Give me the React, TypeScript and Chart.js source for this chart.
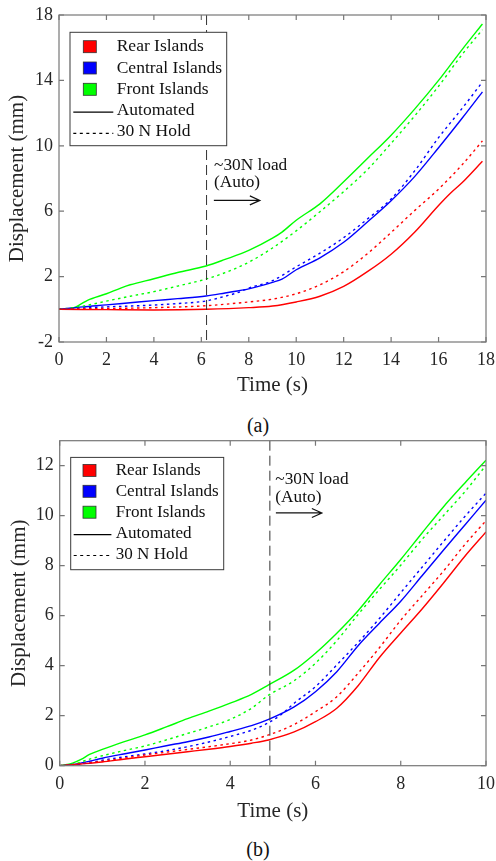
import React, { useEffect, useRef } from 'react';
import { Chart, registerables } from 'chart.js';

Chart.register(...registerables);

const FONT = "'Liberation Serif', 'Times New Roman', serif";
const RED = '#ff0000';
const BLUE = '#0000ff';
const GREEN = '#00ff00';
const AXIS = '#777777';
const TEXT = '#262626';

// ---------- Panel (a) ----------
const A_X_TICKS = [0, 2, 4, 6, 8, 10, 12, 14, 16, 18];
const A_Y_TICKS = [-2, 2, 6, 10, 14, 18];

const A_T_REAR_AUTO = [0, 2, 4, 6.2, 8, 9, 10, 11, 12, 13, 14, 15, 16, 16.5, 17, 17.85];
const A_V_REAR_AUTO = [0, -0.02, -0.04, 0, 0.1, 0.2, 0.45, 0.8, 1.4, 2.3, 3.37, 4.73, 6.35, 7.1, 7.75, 9.05];
const A_T_REAR_HOLD = [0, 1, 2, 4, 6.2, 8, 9, 10, 11, 12, 13, 14, 15, 16, 17, 17.85];
const A_V_REAR_HOLD = [0, 0.03, 0.05, 0.1, 0.22, 0.45, 0.62, 0.95, 1.5, 2.3, 3.4, 4.7, 6.05, 7.35, 8.85, 10.3];

const A_T_CENT_AUTO = [0, 1, 2, 3, 4, 5, 6.2, 7, 8, 9, 9.4, 10, 11, 12, 13, 14, 15, 16, 17, 17.85];
const A_V_CENT_AUTO = [0, 0.15, 0.27, 0.4, 0.53, 0.65, 0.81, 1.0, 1.25, 1.65, 1.85, 2.42, 3.15, 4.1, 5.34, 6.64, 8.13, 9.88, 11.7, 13.3];
const A_T_CENT_HOLD = [0, 1, 2, 3, 4, 5, 6.2, 7, 7.5, 8, 9, 10, 11, 12, 13, 14, 15, 16, 17, 17.85];
const A_V_CENT_HOLD = [0, 0.08, 0.15, 0.2, 0.26, 0.35, 0.51, 0.8, 1.0, 1.3, 1.75, 2.6, 3.43, 4.38, 5.52, 6.75, 8.48, 10.5, 12.3, 13.9];

const A_T_FRONT_AUTO = [0, 0.6, 0.9, 1.2, 2, 2.6, 3, 4, 5, 6.2, 7, 8, 9, 9.4, 10, 11, 12, 13, 14, 15, 16, 17, 17.85];
const A_V_FRONT_AUTO = [0, 0.08, 0.3, 0.55, 0.95, 1.3, 1.5, 1.87, 2.25, 2.65, 3.05, 3.6, 4.35, 4.72, 5.45, 6.45, 7.8, 9.22, 10.65, 12.26, 14.0, 15.9, 17.45];
const A_T_FRONT_HOLD = [0, 0.5, 1.2, 2, 3, 4, 5, 6.2, 7, 8, 9, 10, 11, 12, 13, 14, 15, 16, 17, 17.85];
const A_V_FRONT_HOLD = [0, 0.08, 0.25, 0.5, 0.8, 1.08, 1.42, 1.85, 2.24, 2.88, 3.75, 4.8, 5.97, 7.2, 8.54, 10.15, 11.84, 13.64, 15.6, 17.1];

// ---------- Panel (b) ----------
const B_X_TICKS = [0, 2, 4, 6, 8, 10];
const B_Y_TICKS = [0, 2, 4, 6, 8, 10, 12];

const B_T_REAR_AUTO = [0, 0.5, 1, 1.5, 2, 2.5, 3, 3.5, 4, 4.5, 4.9, 5.5, 6, 6.5, 7, 7.5, 8, 8.5, 9, 9.5, 10];
const B_V_REAR_AUTO = [0, 0.07, 0.15, 0.26, 0.36, 0.46, 0.56, 0.66, 0.77, 0.9, 1.03, 1.35, 1.76, 2.3, 3.2, 4.33, 5.31, 6.27, 7.3, 8.37, 9.35];
const B_T_REAR_HOLD = [0, 0.5, 1, 1.5, 2, 2.5, 3, 3.5, 4, 4.5, 4.9, 5.5, 6, 6.5, 7, 7.5, 8, 8.5, 9, 9.5, 10];
const B_V_REAR_HOLD = [0, 0.08, 0.18, 0.3, 0.43, 0.54, 0.65, 0.76, 0.88, 1.03, 1.23, 1.65, 2.16, 2.76, 3.7, 4.72, 5.82, 6.8, 7.78, 8.84, 9.8];

const B_T_CENT_AUTO = [0, 0.3, 0.7, 1, 1.5, 2, 2.5, 3, 3.5, 4, 4.5, 4.9, 5.5, 6, 6.5, 7, 7.5, 8, 8.5, 9, 9.5, 10];
const B_V_CENT_AUTO = [0, 0.05, 0.18, 0.3, 0.47, 0.63, 0.8, 0.96, 1.15, 1.37, 1.6, 1.85, 2.35, 2.96, 3.76, 4.8, 5.7, 6.58, 7.6, 8.62, 9.62, 10.62];
const B_T_CENT_HOLD = [0, 0.3, 0.7, 1, 1.5, 2, 2.5, 3, 3.5, 4, 4.5, 4.9, 5.2, 5.5, 6, 6.5, 7, 7.5, 8, 8.5, 9, 9.5, 10];
const B_V_CENT_HOLD = [0, 0.03, 0.12, 0.22, 0.35, 0.47, 0.6, 0.76, 0.95, 1.17, 1.42, 1.72, 2.05, 2.5, 3.16, 4.03, 4.93, 5.89, 6.92, 7.94, 8.96, 9.96, 10.9];

const B_T_FRONT_AUTO = [0, 0.3, 0.5, 0.7, 1, 1.5, 2, 2.5, 3, 3.5, 4, 4.5, 4.9, 5.5, 6, 6.5, 7, 7.5, 8, 8.5, 9, 9.5, 10];
const B_V_FRONT_AUTO = [0, 0.1, 0.25, 0.45, 0.65, 0.95, 1.23, 1.55, 1.88, 2.18, 2.5, 2.85, 3.23, 3.82, 4.5, 5.3, 6.2, 7.24, 8.25, 9.31, 10.35, 11.3, 12.22];
const B_T_FRONT_HOLD = [0, 0.3, 0.7, 1, 1.5, 2, 2.5, 3, 3.5, 4, 4.5, 4.9, 5.5, 6, 6.5, 7, 7.5, 8, 8.5, 9, 9.5, 10];
const B_V_FRONT_HOLD = [0, 0.05, 0.26, 0.4, 0.6, 0.79, 1.03, 1.29, 1.55, 1.85, 2.3, 2.82, 3.4, 4.1, 5.0, 6.05, 7.05, 8.02, 9.05, 10.0, 10.95, 12.02];

// ---------- Labels ----------
const LEGEND_LABELS = ['Rear Islands', 'Central Islands', 'Front Islands', 'Automated', '30 N Hold'];
const NOTE_LINES = ['~30N load', '(Auto)'];
const A_LOAD_TIME = 6.22;
const B_LOAD_TIME = 4.93;
const X_TITLE = 'Time (s)';
const Y_TITLE = 'Displacement (mm)';

const HOLD_DASH = [2.5, 3.5];

const pts = (t: number[], v: number[]) => t.map((x, i) => ({ x, y: v[i] }));

function makeDatasets(series: { t: number[]; v: number[]; color: string; hold: boolean }[]) {
  return series.map((s) => ({
    data: pts(s.t, s.v),
    borderColor: s.color,
    borderWidth: 1.4,
    borderDash: s.hold ? HOLD_DASH : [],
    pointRadius: 0,
    fill: false,
    cubicInterpolationMode: 'monotone' as const,
  }));
}

const framePlugin = {
  id: 'frame',
  afterDraw(chart: any) {
    const { ctx, chartArea } = chart;
    const { left, right, top, bottom } = chartArea;
    const xs = chart.scales.x;
    const ys = chart.scales.y;
    const tl = 5;
    ctx.save();
    ctx.strokeStyle = AXIS;
    ctx.lineWidth = 1.2;
    ctx.setLineDash([]);
    ctx.strokeRect(left, top, right - left, bottom - top);
    ctx.beginPath();
    xs.ticks.forEach((t: any) => {
      const p = xs.getPixelForValue(t.value);
      ctx.moveTo(p, bottom);
      ctx.lineTo(p, bottom - tl);
      ctx.moveTo(p, top);
      ctx.lineTo(p, top + tl);
    });
    ys.ticks.forEach((t: any) => {
      const p = ys.getPixelForValue(t.value);
      ctx.moveTo(left, p);
      ctx.lineTo(left + tl, p);
      ctx.moveTo(right, p);
      ctx.lineTo(right - tl, p);
    });
    ctx.stroke();
    ctx.restore();
  },
};

const notePlugin = {
  id: 'loadNote',
  afterDatasetsDraw(chart: any, _args: any, o: any) {
    const { ctx, chartArea } = chart;
    const xs = chart.scales.x;
    const ys = chart.scales.y;
    const px = xs.getPixelForValue(o.at);
    ctx.save();
    ctx.strokeStyle = '#333333';
    ctx.lineWidth = 1;
    ctx.setLineDash([10, 5]);
    ctx.beginPath();
    ctx.moveTo(px, chartArea.top);
    ctx.lineTo(px, chartArea.bottom);
    ctx.stroke();
    ctx.setLineDash([]);
    const ty = ys.getPixelForValue(o.textY);
    ctx.fillStyle = '#111';
    ctx.font = `${o.fontSize}px ${FONT}`;
    ctx.textBaseline = 'middle';
    ctx.textAlign = 'left';
    o.lines.forEach((s: string, i: number) => ctx.fillText(s, px + o.textDx, ty + i * o.lineGap));
    const ay = ty + o.arrowDy;
    const ax0 = px + o.arrowX0;
    const ax1 = px + o.arrowX1;
    ctx.strokeStyle = '#111';
    ctx.lineWidth = 1.2;
    ctx.beginPath();
    ctx.moveTo(ax0, ay);
    ctx.lineTo(ax1, ay);
    ctx.moveTo(ax1 - 10, ay - 4.5);
    ctx.lineTo(ax1, ay);
    ctx.lineTo(ax1 - 10, ay + 4.5);
    ctx.stroke();
    ctx.restore();
  },
};

const legendPlugin = {
  id: 'boxLegend',
  afterDraw(chart: any, _args: any, o: any) {
    const { ctx, chartArea } = chart;
    const x0 = chartArea.left + o.dx;
    const y0 = chartArea.top + o.dy;
    ctx.save();
    ctx.fillStyle = '#ffffff';
    ctx.fillRect(x0, y0, o.w, o.h);
    ctx.strokeStyle = '#3a3a3a';
    ctx.lineWidth = 1;
    ctx.setLineDash([]);
    ctx.strokeRect(x0, y0, o.w, o.h);
    ctx.font = `${o.fontSize}px ${FONT}`;
    ctx.textBaseline = 'middle';
    ctx.textAlign = 'left';
    o.items.forEach((it: any, i: number) => {
      const cy = y0 + o.firstRow + i * o.rowGap;
      if (it.swatch) {
        ctx.fillStyle = it.swatch;
        ctx.fillRect(x0 + o.swX, cy - 6, 13, 12);
        ctx.strokeStyle = '#333';
        ctx.lineWidth = 0.8;
        ctx.strokeRect(x0 + o.swX, cy - 6, 13, 12);
      } else {
        ctx.strokeStyle = '#000';
        ctx.lineWidth = 1.2;
        ctx.setLineDash(it.dash);
        ctx.beginPath();
        ctx.moveTo(x0 + o.lnX0, cy + 1.5);
        ctx.lineTo(x0 + o.lnX1, cy + 1.5);
        ctx.stroke();
        ctx.setLineDash([]);
      }
      ctx.fillStyle = '#111';
      ctx.fillText(it.label, x0 + o.textX, cy);
    });
    ctx.restore();
  },
};

const legendItems = [
  { label: LEGEND_LABELS[0], swatch: RED },
  { label: LEGEND_LABELS[1], swatch: BLUE },
  { label: LEGEND_LABELS[2], swatch: GREEN },
  { label: LEGEND_LABELS[3], dash: [] },
  { label: LEGEND_LABELS[4], dash: [3, 3.5] },
];

function buildConfig(p: any): any {
  return {
    type: 'line',
    data: { datasets: p.datasets },
    plugins: [framePlugin, notePlugin, legendPlugin],
    options: {
      responsive: false,
      animation: false,
      devicePixelRatio: 1,
      layout: { padding: { left: 0, top: p.padTop, right: 10, bottom: 0 } },
      plugins: {
        legend: { display: false },
        tooltip: { enabled: false },
        loadNote: p.note,
        boxLegend: p.legend,
      },
      scales: {
        x: {
          type: 'linear',
          min: p.xMin,
          max: p.xMax,
          afterBuildTicks: (s: any) => {
            s.ticks = p.xTicks.map((v: number) => ({ value: v }));
          },
          afterFit: (s: any) => {
            s.height = p.xAxisH;
            s.paddingLeft = 0;
            s.paddingRight = 0;
            s.paddingTop = 0;
            s.paddingBottom = 0;
          },
          grid: { display: false, drawTicks: false },
          border: { display: false },
          ticks: { font: { family: FONT, size: 18 }, color: TEXT, padding: 7.5, maxRotation: 0, autoSkip: false },
          title: { display: true, text: X_TITLE, font: { family: FONT, size: 21 }, color: TEXT, padding: { top: 0, bottom: p.xTitlePad } },
        },
        y: {
          type: 'linear',
          min: p.yMin,
          max: p.yMax,
          afterBuildTicks: (s: any) => {
            s.ticks = p.yTicks.map((v: number) => ({ value: v }));
          },
          afterFit: (s: any) => {
            s.width = p.yAxisW;
            s.paddingLeft = 0;
            s.paddingRight = 0;
            s.paddingTop = 0;
            s.paddingBottom = 0;
          },
          grid: { display: false, drawTicks: false },
          border: { display: false },
          ticks: { font: { family: FONT, size: 18 }, color: TEXT, padding: 6, autoSkip: false },
          title: { display: true, text: Y_TITLE, font: { family: FONT, size: 21 }, color: TEXT, padding: { top: p.yTitlePad, bottom: 0 } },
        },
      },
    },
  };
}

const PANEL_A = {
  datasets: makeDatasets([
    { t: A_T_REAR_HOLD, v: A_V_REAR_HOLD, color: RED, hold: true },
    { t: A_T_CENT_HOLD, v: A_V_CENT_HOLD, color: BLUE, hold: true },
    { t: A_T_FRONT_HOLD, v: A_V_FRONT_HOLD, color: GREEN, hold: true },
    { t: A_T_REAR_AUTO, v: A_V_REAR_AUTO, color: RED, hold: false },
    { t: A_T_CENT_AUTO, v: A_V_CENT_AUTO, color: BLUE, hold: false },
    { t: A_T_FRONT_AUTO, v: A_V_FRONT_AUTO, color: GREEN, hold: false },
  ]),
  xMin: 0, xMax: 18, yMin: -2, yMax: 18,
  xTicks: A_X_TICKS, yTicks: A_Y_TICKS,
  padTop: 15, xAxisH: 58, yAxisW: 59, xTitlePad: 2.4, yTitlePad: 4.4,
  note: { at: A_LOAD_TIME, textY: 8.8, lines: NOTE_LINES, fontSize: 17.3, textDx: 7.5, lineGap: 17.5, arrowDy: 35, arrowX0: 7.3, arrowX1: 53.3 },
  legend: { items: legendItems, dx: 11, dy: 17.3, w: 156.7, h: 113.4, firstRow: 14.4, rowGap: 21.3, swX: 13.3, textX: 46.7, lnX0: 3.3, lnX1: 43.3, fontSize: 17.5 },
};

const PANEL_B = {
  datasets: makeDatasets([
    { t: B_T_REAR_HOLD, v: B_V_REAR_HOLD, color: RED, hold: true },
    { t: B_T_CENT_HOLD, v: B_V_CENT_HOLD, color: BLUE, hold: true },
    { t: B_T_FRONT_HOLD, v: B_V_FRONT_HOLD, color: GREEN, hold: true },
    { t: B_T_REAR_AUTO, v: B_V_REAR_AUTO, color: RED, hold: false },
    { t: B_T_CENT_AUTO, v: B_V_CENT_AUTO, color: BLUE, hold: false },
    { t: B_T_FRONT_AUTO, v: B_V_FRONT_AUTO, color: GREEN, hold: false },
  ]),
  xMin: 0, xMax: 10, yMin: 0, yMax: 13,
  xTicks: B_X_TICKS, yTicks: B_Y_TICKS,
  padTop: 10.7, xAxisH: 64.3, yAxisW: 59.7, xTitlePad: 5.7, yTitlePad: 6.4,
  note: { at: B_LOAD_TIME, textY: 11.45, lines: NOTE_LINES, fontSize: 17.3, textDx: 5.5, lineGap: 18, arrowDy: 33.5, arrowX0: 6, arrowX1: 52 },
  legend: { items: legendItems, dx: 11, dy: 16.7, w: 153, h: 112.3, firstRow: 13, rowGap: 20.9, swX: 12.3, textX: 45, lnX0: 3, lnX1: 40.7, fontSize: 17.1 },
};

function Panel({ cfg, top }: { cfg: any; top: number }) {
  const ref = useRef<HTMLCanvasElement>(null);
  useEffect(() => {
    const chart = new Chart(ref.current as HTMLCanvasElement, buildConfig(cfg));
    return () => chart.destroy();
  }, [cfg]);
  return (
    <canvas
      ref={ref}
      width={496}
      height={400}
      style={{ position: 'absolute', left: 0, top, width: 496, height: 400 }}
    />
  );
}

const captionStyle = (top: number): React.CSSProperties => ({
  position: 'absolute',
  left: 0,
  width: 516,
  top,
  height: 24,
  lineHeight: '24px',
  textAlign: 'center',
  fontFamily: FONT,
  fontSize: 20,
  color: '#111',
});

export default function App() {
  return (
    <div style={{ position: 'absolute', left: 0, top: 0, width: 496, height: 861, background: '#fff', overflow: 'hidden' }}>
      <Panel cfg={PANEL_A} top={0} />
      <div style={captionStyle(413)}>(a)</div>
      <Panel cfg={PANEL_B} top={430} />
      <div style={captionStyle(837)}>(b)</div>
    </div>
  );
}
